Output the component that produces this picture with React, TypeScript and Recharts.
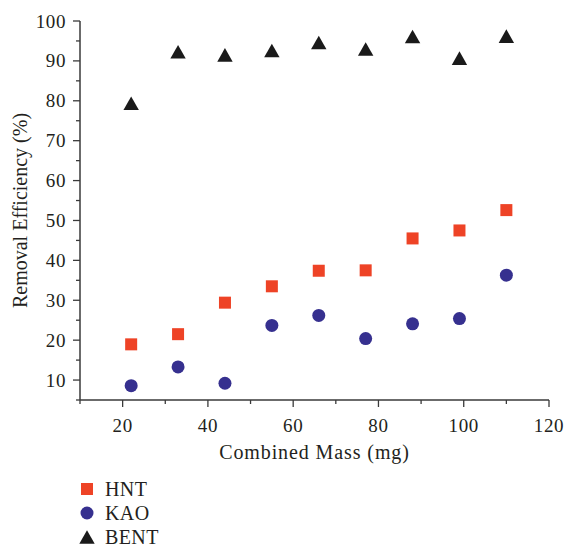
import React from 'react';
import { ScatterChart, Scatter, XAxis, YAxis, Legend } from 'recharts';

const masses = [22, 33, 44, 55, 66, 77, 88, 99, 110];
const hntValues = [18.95, 21.5, 29.4, 33.5, 37.4, 37.5, 45.5, 47.5, 52.6];
const kaoValues = [8.6, 13.3, 9.2, 23.7, 26.2, 20.4, 24.1, 25.4, 36.3];
const bentValues = [79.4, 92.3, 91.5, 92.6, 94.6, 93.0, 96.1, 90.7, 96.2];

const xTicks = [10, 20, 30, 40, 50, 60, 70, 80, 90, 100, 110, 120];
const xLabelTicks = [20, 40, 60, 80, 100, 120];
const yTicks = [5, 10, 15, 20, 25, 30, 35, 40, 45, 50, 55, 60, 65, 70, 75, 80, 85, 90, 95, 100];
const yLabelTicks = [10, 20, 30, 40, 50, 60, 70, 80, 90, 100];
const frameTicks = [0, 1, 2, 3, 4, 5, 6, 7, 8, 9, 10];

const seriesNames = ['HNT', 'KAO', 'BENT'];
const seriesColors = ['#EE4326', '#36308F', '#1A1A1A'];

const hntData = masses.map((m, i) => ({ x: m, y: hntValues[i] }));
const kaoData = masses.map((m, i) => ({ x: m, y: kaoValues[i] }));
const bentData = masses.map((m, i) => ({ x: m, y: bentValues[i] }));

const FONT = '"Liberation Serif", "DejaVu Serif", serif';
const TEXT = '#231F20';
const AXIS = '#3a3a3a';

const SquareShape = (p: any) => (
  <rect x={p.cx - 6} y={p.cy - 6} width={12} height={12} fill={seriesColors[0]} />
);
const CircleShape = (p: any) => <circle cx={p.cx} cy={p.cy} r={6.5} fill={seriesColors[1]} />;
const TriangleShape = (p: any) => (
  <path
    d={`M${p.cx},${p.cy - 6.8} L${p.cx + 7.7},${p.cy + 6.8} L${p.cx - 7.7},${p.cy + 6.8} Z`}
    fill={seriesColors[2]}
  />
);

const BottomTick = (p: any) => {
  const v = p.payload.value;
  const major = xLabelTicks.includes(v);
  return (
    <g>
      <line x1={p.x} x2={p.x} y1={p.y} y2={p.y + (major ? 7 : 4)} stroke={AXIS} strokeWidth={1.3} />
      {major && (
        <text x={p.x} y={p.y + 32} textAnchor="middle" fontFamily={FONT} fontSize={19} letterSpacing={0.6} fill={TEXT}>
          {v}
        </text>
      )}
    </g>
  );
};

const LeftTick = (p: any) => {
  const v = p.payload.value;
  const major = yLabelTicks.includes(v);
  return (
    <g>
      <line x1={p.x} x2={p.x - (major ? 7 : 4)} y1={p.y} y2={p.y} stroke={AXIS} strokeWidth={1.3} />
      {major && (
        <text x={p.x - 14} y={p.y + 6.5} textAnchor="end" fontFamily={FONT} fontSize={19} letterSpacing={0.6} fill={TEXT}>
          {v}
        </text>
      )}
    </g>
  );
};

const TopTick = (p: any) => {
  const v = p.payload.value;
  const len = v % 2 === 0 ? 7 : 4;
  return <line x1={p.x} x2={p.x} y1={p.y} y2={p.y + len} stroke={AXIS} strokeWidth={1.3} />;
};

const RightTick = (p: any) => {
  const v = p.payload.value;
  const len = v % 2 === 0 ? 7 : 4;
  return <line x1={p.x} x2={p.x - len} y1={p.y} y2={p.y} stroke={AXIS} strokeWidth={1.3} />;
};

const YTitle = (p: any) => {
  const vb = p.viewBox || { x: 0, y: 21, width: 80, height: 379 };
  const cx = 20;
  const cy = vb.y + vb.height / 2;
  return (
    <text
      x={cx}
      y={cy}
      transform={`rotate(-90, ${cx}, ${cy})`}
      textAnchor="middle"
      dominantBaseline="central"
      fontFamily={FONT}
      fontSize={20}
      fill={TEXT}
    >
      Removal Efficiency (%)
    </text>
  );
};

const LegendMarker = ({ index }: { index: number }) => {
  if (index === 0) return <rect x={2} y={2} width={12} height={12} fill={seriesColors[0]} />;
  if (index === 1) return <circle cx={8} cy={8} r={6.5} fill={seriesColors[1]} />;
  return <path d="M8,1.2 L15.7,14.8 L0.3,14.8 Z" fill={seriesColors[2]} />;
};

const LegendContent = () => (
  <div style={{ fontFamily: FONT, fontSize: 20, color: TEXT }}>
    {seriesNames.map((name, i) => (
      <div key={name} style={{ display: 'flex', alignItems: 'center', height: 24 }}>
        <svg width={16} height={16} style={{ marginRight: 10, flexShrink: 0 }}>
          <LegendMarker index={i} />
        </svg>
        <span style={{ lineHeight: '15px', display: 'inline-block', letterSpacing: 0.4 }}>{name}</span>
      </div>
    ))}
  </div>
);

export default function App() {
  return (
    <div style={{ position: 'absolute', left: 0, top: 0, width: 567, height: 548, background: '#fff' }}>
      <ScatterChart width={567} height={548} margin={{ top: 21, right: 18, bottom: 88, left: 0 }}>
        <XAxis
          xAxisId="bottom"
          dataKey="x"
          type="number"
          domain={[10, 120]}
          ticks={xTicks}
          interval={0}
          height={60}
          tickSize={0}
          tickMargin={0}
          tickLine={false}
          tick={<BottomTick />}
          axisLine={{ stroke: AXIS, strokeWidth: 1.5 }}
          label={{
            value: 'Combined Mass (mg)',
            position: 'insideBottom',
            offset: 1,
            style: { fontFamily: FONT, fontSize: 20, letterSpacing: 0.9, fill: TEXT },
          }}
        />
        <XAxis
          xAxisId="top"
          orientation="top"
          type="number"
          domain={[0, 10]}
          ticks={frameTicks}
          interval={0}
          height={0}
          tickSize={0}
          tickMargin={0}
          tickLine={false}
          tick={<TopTick />}
          axisLine={{ stroke: AXIS, strokeWidth: 1.5 }}
        />
        <YAxis
          yAxisId="left"
          dataKey="y"
          type="number"
          domain={[5, 100]}
          ticks={yTicks}
          interval={0}
          width={80}
          tickSize={0}
          tickMargin={0}
          tickLine={false}
          tick={<LeftTick />}
          axisLine={{ stroke: AXIS, strokeWidth: 1.5 }}
          label={<YTitle />}
        />
        <YAxis
          yAxisId="right"
          orientation="right"
          type="number"
          domain={[0, 10]}
          ticks={frameTicks}
          interval={0}
          width={0}
          tickSize={0}
          tickMargin={0}
          tickLine={false}
          tick={<RightTick />}
          axisLine={{ stroke: '#666', strokeWidth: 2 }}
        />
        <Legend
          layout="vertical"
          align="center"
          verticalAlign="middle"
          content={<LegendContent />}
          wrapperStyle={{ position: 'absolute', left: 79, top: 477, width: 120, height: 70 }}
        />
        <Scatter
          name={seriesNames[0]}
          data={hntData}
          xAxisId="bottom"
          yAxisId="left"
          fill={seriesColors[0]}
          shape={SquareShape}
          isAnimationActive={false}
        />
        <Scatter
          name={seriesNames[1]}
          data={kaoData}
          xAxisId="bottom"
          yAxisId="left"
          fill={seriesColors[1]}
          shape={CircleShape}
          isAnimationActive={false}
        />
        <Scatter
          name={seriesNames[2]}
          data={bentData}
          xAxisId="bottom"
          yAxisId="left"
          fill={seriesColors[2]}
          shape={TriangleShape}
          isAnimationActive={false}
        />
      </ScatterChart>
    </div>
  );
}
